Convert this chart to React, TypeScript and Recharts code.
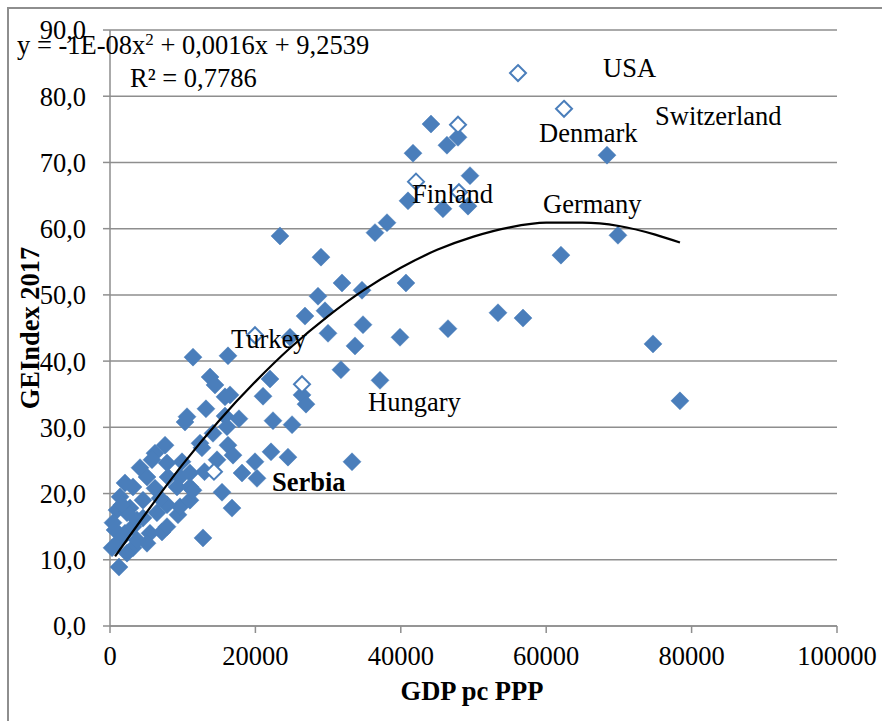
import { ScatterChart, Scatter, XAxis, YAxis, CartesianGrid } from "recharts";

// GDP per capita (PPP) of the highlighted countries, drawn as open diamonds
const openGdp = [56120, 62450, 47870, 42090, 48000, 19945, 26410, 14300];
const openGei = [83.5, 78.1, 75.7, 67.1, 65.5, 43.9, 36.5, 23.3];

// all other countries
const gdp = [
  44150, 46350, 47870, 41680, 68360, 49520, 40990, 45800, 49240, 38100,
  36450, 69870, 23380, 62030, 29020, 31910, 34660, 40710, 28610, 26820,
  29570, 34800, 29990, 33700, 39890, 46490, 53370, 56810, 74690, 78400,
  24760, 22010, 21050, 26410, 26960, 31770, 37140, 22420, 25040, 22150,
  24480, 33290, 11420, 16230, 13760, 14440, 15820, 16510, 13200, 10590,
  10320, 15820, 17740, 14170, 16090, 12650, 16230, 16920, 14720, 19945,
  18160, 20220, 13000, 11000, 11000, 9630, 15410, 16780, 12790, 12380,
  7570, 6190, 9900, 5090, 3160, 1380, 960, 410, 280, 1240,
  2060, 3160, 5500, 7150, 5090, 3160, 2340, 9350, 9630, 11000,
  11420, 7840, 6460, 7840, 4540, 2750, 4540, 6190, 7980, 9220,
  5780, 7840, 4130, 2060, 2340, 1380, 3710, 690, 3710, 6880, 1650,
];
const gei = [
  75.8, 72.6, 73.8, 71.4, 71.1, 68.0, 64.2, 63.0, 63.4, 60.9,
  59.4, 59.0, 58.9, 56.0, 55.7, 51.8, 50.7, 51.8, 49.8, 46.8,
  47.6, 45.5, 44.2, 42.3, 43.6, 44.9, 47.3, 46.5, 42.6, 34.0,
  43.6, 37.3, 34.7, 34.9, 33.5, 38.7, 37.1, 31.0, 30.4, 26.3,
  25.5, 24.8, 40.6, 40.8, 37.6, 36.4, 34.6, 34.9, 32.8, 31.6,
  30.8, 31.7, 31.3, 29.1, 30.1, 26.9, 27.3, 25.8, 25.1, 24.8,
  23.1, 22.3, 23.3, 23.1, 21.0, 22.5, 20.2, 17.8, 13.3, 27.6,
  27.3, 26.1, 24.8, 22.5, 21.0, 19.5, 17.5, 15.6, 11.8, 8.9,
  14.0, 15.0, 14.0, 14.2, 12.5, 11.8, 11.0, 16.8, 18.0, 19.0,
  20.5, 18.3, 17.1, 15.0, 16.3, 17.8, 19.0, 20.8, 22.5, 21.0,
  25.1, 24.6, 23.9, 21.6, 17.1, 13.0, 13.0, 14.5, 16.0, 19.3, 18.3,
];

// polynomial trend line
const trendGdp = [700, 5000, 10000, 15000, 20000, 25000, 30000, 35000, 40000, 45000, 50000, 55000, 60000, 65000, 70000, 75000, 78400];
const trendGei = [10.5, 17.1, 24.4, 31.0, 36.9, 42.2, 46.8, 50.8, 54.1, 56.8, 58.8, 60.2, 60.9, 60.9, 60.4, 59.1, 57.9];

const xTicks = [0, 20000, 40000, 60000, 80000, 100000];
const yTicks = [0, 10, 20, 30, 40, 50, 60, 70, 80, 90];

const BLUE = "#4a7ebb";
const GRAY = "#8e8e8e";
const FONT = "'Liberation Serif', 'Times New Roman', serif";
const FS = 26.5;

const filledData = gdp.map((x, i) => ({ x, y: gei[i] }));
const openData = openGdp.map((x, i) => ({ x, y: openGei[i] }));
const trendData = trendGdp.map((x, i) => ({ x, y: trendGei[i] }));

const Diamond = (props: any) => {
  const { cx, cy, hollow } = props;
  const r = 9;
  const pts = `${cx},${cy - r} ${cx + r},${cy} ${cx},${cy + r} ${cx - r},${cy}`;
  if (hollow) {
    const h = r - 1;
    const p2 = `${cx},${cy - h} ${cx + h},${cy} ${cx},${cy + h} ${cx - h},${cy}`;
    return <polygon points={p2} fill="#ffffff" stroke={BLUE} strokeWidth={2} />;
  }
  return <polygon points={pts} fill={BLUE} stroke={BLUE} strokeWidth={0.5} />;
};

const fmt = (v: number) => v.toFixed(1).replace(".", ",");

export default function App() {
  return (
    <div style={{ position: "absolute", left: 0, top: 0, width: 882, height: 721, overflow: "hidden", background: "#fff", fontFamily: FONT }}>
      <div style={{ position: "absolute", left: 7, top: 7, width: 900, height: 740, border: `2px solid ${GRAY}` }} />
      <div style={{ position: "absolute", left: 0, top: 0 }}>
        <ScatterChart width={882} height={721} margin={{ top: 30, right: 45, bottom: 0, left: 10 }}>
          <CartesianGrid vertical={false} stroke={GRAY} strokeWidth={1.5} />
          <XAxis
            type="number"
            dataKey="x"
            domain={[0, 100000]}
            ticks={xTicks}
            height={95}
            stroke={GRAY}
            strokeWidth={1.5}
            tickSize={7}
            tickMargin={13}
            tick={{ fill: "#000", fontSize: FS, fontFamily: FONT }}
          />
          <YAxis
            type="number"
            dataKey="y"
            domain={[0, 90]}
            ticks={yTicks}
            width={100}
            stroke={GRAY}
            strokeWidth={1.5}
            tickSize={7}
            tickMargin={17}
            tickFormatter={fmt}
            tick={{ fill: "#000", fontSize: FS, fontFamily: FONT }}
          />
          <Scatter data={filledData} shape={(p: any) => <Diamond {...p} />} isAnimationActive={false} />
          <Scatter data={openData} shape={(p: any) => <Diamond {...p} hollow />} isAnimationActive={false} />
          <Scatter
            data={trendData}
            line={{ stroke: "#000", strokeWidth: 2.2 }}
            lineJointType="monotoneX"
            shape={() => null}
            isAnimationActive={false}
          />
        </ScatterChart>
      </div>
      <svg width={882} height={721} style={{ position: "absolute", left: 0, top: 0, pointerEvents: "none" }} fontFamily={FONT} fontSize={FS}>
        <text x={17} y={54}>
          y = -1E-08x<tspan dy={-9} fontSize={17}>2</tspan>
          <tspan dy={9}> + 0,0016x + 9,2539</tspan>
        </text>
        <text x={130} y={87}>R² = 0,7786</text>
        <text x={603} y={77}>USA</text>
        <text x={655} y={125}>Switzerland</text>
        <text x={539} y={142}>Denmark</text>
        <text x={412} y={203}>Finland</text>
        <text x={543} y={213}>Germany</text>
        <text x={231} y={348}>Turkey</text>
        <text x={368} y={411}>Hungary</text>
        <text x={272} y={491} fontWeight="bold">Serbia</text>
        <text x={472} y={700} textAnchor="middle" fontWeight="bold">GDP pc PPP</text>
        <text x={39} y={328} textAnchor="middle" fontWeight="bold" transform="rotate(-90 39 328)">GEIndex 2017</text>
      </svg>
    </div>
  );
}
